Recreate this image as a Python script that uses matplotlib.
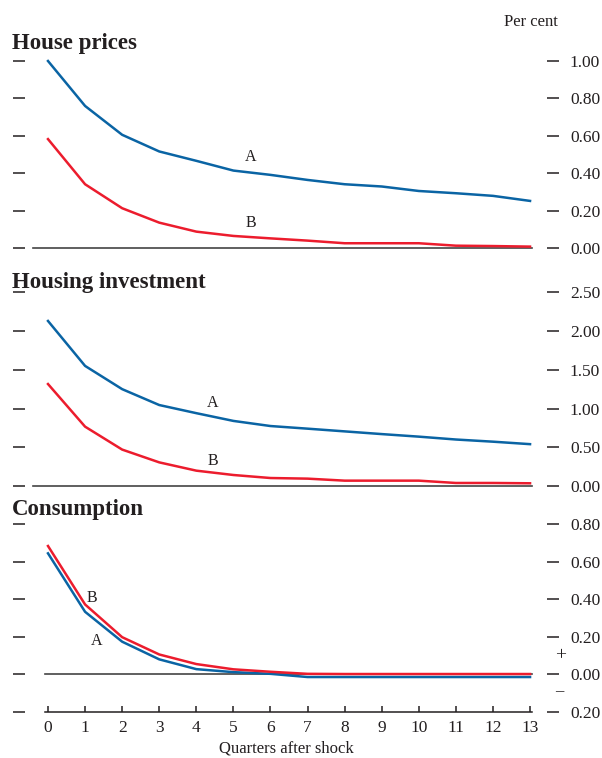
import matplotlib
matplotlib.use("Agg")
import matplotlib.pyplot as plt
import matplotlib.ticker as ticker
import numpy as np

# quarters after the shock
quarters = list(range(14))

# House prices, per cent
house_a = [1.00, 0.76, 0.606, 0.517, 0.467, 0.415, 0.392, 0.365, 0.342, 0.330, 0.306, 0.294, 0.280, 0.253]
house_b = [0.583, 0.342, 0.214, 0.137, 0.089, 0.066, 0.053, 0.041, 0.027, 0.027, 0.027, 0.014, 0.012, 0.009]

# Housing investment, per cent
invest_a = [2.13, 1.55, 1.25, 1.045, 0.94, 0.84, 0.774, 0.74, 0.705, 0.67, 0.637, 0.60, 0.572, 0.54]
invest_b = [1.316, 0.766, 0.47, 0.305, 0.198, 0.142, 0.103, 0.095, 0.069, 0.069, 0.069, 0.039, 0.039, 0.035]

# Consumption, per cent
cons_a = [0.644, 0.333, 0.174, 0.080, 0.028, 0.012, 0.003, -0.014, -0.014, -0.014, -0.014, -0.014, -0.014, -0.014]
cons_b = [0.683, 0.372, 0.198, 0.106, 0.055, 0.027, 0.014, 0.003, 0.002, 0.002, 0.002, 0.002, 0.002, 0.002]

titles = ["House prices", "Housing investment", "Consumption"]
yticks = [
    [0.0, 0.2, 0.4, 0.6, 0.8, 1.0],
    [0.0, 0.5, 1.0, 1.5, 2.0, 2.5],
    [-0.2, 0.0, 0.2, 0.4, 0.6, 0.8],
]

BLUE = "#0a64a4"
RED = "#ec1c2d"
INK = "#231f20"
SERIF = ["Liberation Serif", "DejaVu Serif"]

plt.rcParams["font.family"] = SERIF

W, H = 602, 758
fig = plt.figure(figsize=(W / 100, H / 100), dpi=100)


def fx(px):
    return px / W


def fy(py):
    return 1 - py / H


# axes boxes in pixels: (top, bottom)
boxes = [(61, 248.3), (292.3, 486), (524, 712)]
left_px, right_px = 25, 547
x0_px, step_px = 48, 37.08

series = [(house_a, house_b), (invest_a, invest_b), (cons_a, cons_b)]
labels_pos = [
    ((5.47, 0.488), (5.47, 0.135)),
    ((4.45, 1.07), (4.45, 0.32)),
    ((1.32, 0.177), (1.19, 0.406)),
]
title_base = [49, 288, 515]

for i in range(3):
    top, bot = boxes[i]
    ax = fig.add_axes([fx(left_px), fy(bot), fx(right_px - left_px), (bot - top) / H])
    a_vals, b_vals = series[i]
    ticks = yticks[i]

    ax.set_xlim(-(x0_px - left_px) / step_px, 13 + (right_px - (x0_px + 13 * step_px)) / step_px)
    ax.set_ylim(ticks[0], ticks[-1])

    if i < 2:
        ax.plot([-0.4, 13.05], [0, 0], color="#444444", lw=1.2, clip_on=False, zorder=1)
    else:
        ax.plot([-0.08, 13.04], [0, 0], color="#444444", lw=1.2, clip_on=False, zorder=1)

    ax.plot(quarters, a_vals, color=BLUE, lw=1.8, clip_on=False, zorder=3,
            solid_joinstyle="round")
    ax.plot(quarters, b_vals, color=RED, lw=1.8, clip_on=False, zorder=3,
            solid_joinstyle="round")

    (ax_x, ax_y), (bx, by) = labels_pos[i]
    ax.text(ax_x, ax_y, "A", ha="center", va="center", fontsize=11.5, color=INK)
    ax.text(bx, by, "B", ha="center", va="center", fontsize=11.5, color=INK)

    for s in ax.spines.values():
        s.set_visible(False)

    ax.set_yticks(ticks)
    ax.yaxis.set_major_formatter(ticker.FuncFormatter(lambda v, p: f"{abs(v):.2f}"))
    ax.yaxis.set_ticks_position("both")
    ax.tick_params(axis="y", direction="out", length=8.5, width=1.1, color=INK,
                   labelleft=False, labelright=True, labelsize=12.5, labelcolor=INK, pad=8)

    if i < 2:
        ax.set_xticks([])
    else:
        ax.spines["bottom"].set_visible(True)
        ax.spines["bottom"].set_bounds(-0.08, 13.04)
        ax.spines["bottom"].set_color(INK)
        ax.spines["bottom"].set_linewidth(1.1)
        ax.set_xticks(quarters)
        ax.tick_params(axis="x", direction="in", length=4.5, width=1.1, color=INK,
                       labelsize=12.5, labelcolor=INK, pad=6)
        ax.set_xlabel("Quarters after shock", fontsize=12, color=INK, labelpad=3)

    ax.patch.set_visible(False)

    fig.text(fx(12), fy(title_base[i]), titles[i], ha="left", va="baseline",
             fontsize=16.5, fontweight="bold", color=INK)

fig.text(fx(558), fy(22), "Per cent", ha="right", va="center", fontsize=12, color=INK)
fig.text(fx(561), fy(656), "+", ha="center", va="center", fontsize=14, color=INK)
fig.text(fx(559), fy(691), "\u2013", ha="center", va="center", fontsize=12, color=INK)

fig.savefig("out.png", dpi=100)
